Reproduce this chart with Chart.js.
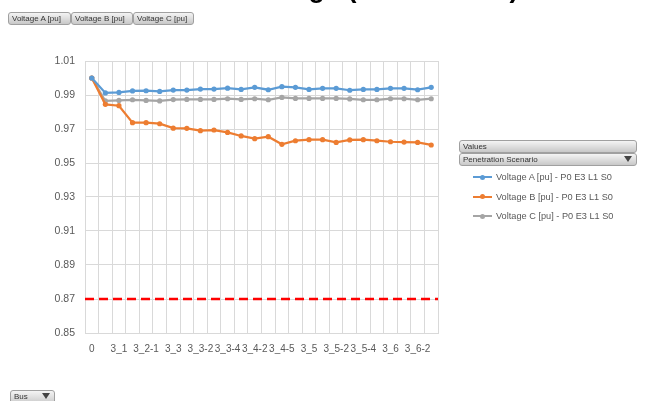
<!DOCTYPE html>
<html>
<head>
<meta charset="utf-8">
<script src="https://cdn.jsdelivr.net/npm/chart.js@4.4.1/dist/chart.umd.min.js"></script>
<style>
  body { margin: 0; background: #fff; font-family: "Liberation Sans", Arial, sans-serif; }
  #wrap { position: relative; width: 650px; height: 401px; overflow: hidden; }
  #grafico { position: absolute; left: 0; top: 0; }
  .titulo { position: absolute; top: -27px; left: 186px; font: bold 27px "Liberation Sans", Arial, sans-serif; color: #000; white-space: nowrap; }
  .boton { position: absolute; height: 11px; line-height: 11px; font-size: 8px; color: #333;
    background: linear-gradient(#f4f4f4, #c8c8c8); border: 1px solid #a0a0a0; border-radius: 3px; padding: 0 3px; box-sizing: content-box; white-space: nowrap; }
  .filtro { position: absolute; right: 4px; top: 2px; width: 0; height: 0; border-left: 4px solid transparent; border-right: 4px solid transparent; border-top: 6px solid #444; }
  .leyenda { position: absolute; left: 473px; top: 170px; font-size: 9.2px; color: #595959; }
  .item { position: relative; height: 19.5px; line-height: 14px; white-space: nowrap; }
  .item .linea { position: absolute; left: 0; top: 6px; width: 19px; height: 2px; }
  .item .punto { position: absolute; left: 7px; top: 4.5px; width: 5px; height: 5px; border-radius: 50%; }
  .item span { position: absolute; left: 23px; top: 0; }
</style>
</head>
<body>
<div id="wrap">
  <canvas id="grafico" width="650" height="401"></canvas>
  <div class="titulo">Bus Voltage (P0 E3 L1 S0)</div>
  <div class="boton" style="left:8px; top:12px; width:55px;">Voltage A [pu]</div>
  <div class="boton" style="left:71px; top:12px; width:54px;">Voltage B [pu]</div>
  <div class="boton" style="left:133px; top:12px; width:53px;">Voltage C [pu]</div>
  <div class="boton" style="left:459px; top:140px; width:170px;">Values</div>
  <div class="boton" style="left:459px; top:153px; width:170px;">Penetration Scenario<div class="filtro"></div></div>
  <div class="boton" style="left:10px; top:390px; width:37px; height:13px;">Bus<div class="filtro"></div></div>
  <div class="leyenda" id="leyenda"></div>
</div>
<script>
// Datos
const buses = ["0", "3", "3_1", "3_2", "3_2-1", "3_2-2", "3_3", "3_3-1", "3_3-2", "3_3-3",
  "3_3-4", "3_4", "3_4-2", "3_4-3", "3_4-5", "3_4-6", "3_5", "3_5-1", "3_5-2", "3_5-3",
  "3_5-4", "3_5-5", "3_6", "3_6-1", "3_6-2", "3_6-3"];

const voltajeA = [1.000, 0.9912, 0.9915, 0.9924, 0.9925, 0.9921, 0.9929, 0.9929, 0.9935, 0.9935,
  0.9940, 0.9933, 0.9945, 0.9931, 0.9949, 0.9945, 0.9933, 0.9939, 0.9939, 0.9928,
  0.9933, 0.9933, 0.9939, 0.9939, 0.9931, 0.9945];
const voltajeB = [1.000, 0.9845, 0.9837, 0.9737, 0.9737, 0.9731, 0.9705, 0.9704, 0.9690, 0.9694,
  0.9680, 0.9659, 0.9643, 0.9655, 0.9610, 0.9631, 0.9637, 0.9637, 0.9621, 0.9636,
  0.9637, 0.9631, 0.9625, 0.9623, 0.9621, 0.9606];
const voltajeC = [1.000, 0.9865, 0.9868, 0.9872, 0.9868, 0.9865, 0.9873, 0.9874, 0.9874, 0.9874,
  0.9878, 0.9874, 0.9878, 0.9872, 0.9886, 0.9880, 0.9880, 0.9880, 0.9880, 0.9877,
  0.9872, 0.9872, 0.9878, 0.9878, 0.9872, 0.9878];
const limiteInferior = 0.87;

const series = ["Voltage A [pu] - P0 E3 L1 S0", "Voltage B [pu] - P0 E3 L1 S0", "Voltage C [pu] - P0 E3 L1 S0"];
const colores = ["#5b9bd5", "#ed7d31", "#a5a5a5"];
const ejeY = { min: 0.85, max: 1.01, paso: 0.02 };

const valores = [voltajeA, voltajeB, voltajeC];
const datasets = valores.map((v, i) => ({
  label: series[i],
  data: v,
  borderColor: colores[i],
  backgroundColor: colores[i],
  borderWidth: 2.25,
  pointRadius: 2.6,
  pointHoverRadius: 3,
  pointBorderWidth: 0,
  tension: 0,
  xAxisID: "x",
}));
// Linea de limite (rojo discontinuo) sobre todo el ancho del area
datasets.push({
  label: "limite",
  data: [{ x: 0, y: limiteInferior }, { x: 1, y: limiteInferior }],
  borderColor: "#ff0000",
  borderWidth: 2.5,
  borderDash: [9, 5],
  pointRadius: 0,
  xAxisID: "x2",
});

const grid = "#d9d9d9";
const ctx = document.getElementById("grafico").getContext("2d");
new Chart(ctx, {
  type: "line",
  data: { labels: buses, datasets },
  options: {
    responsive: false,
    animation: false,
    layout: { padding: { left: 0, top: 61, right: 212, bottom: 0 } },
    plugins: { legend: { display: false }, tooltip: { enabled: false } },
    scales: {
      x: {
        type: "category",
        offset: true,
        grid: { color: grid, offset: true, drawTicks: false },
        border: { color: grid },
        ticks: {
          autoSkip: false, maxRotation: 0, minRotation: 0, padding: 10,
          color: "#595959", font: { size: 10, family: "Liberation Sans" },
          callback: function (val, i) { return i % 2 === 0 ? this.getLabelForValue(val) : ""; },
        },
        afterFit: (s) => { s.height = 68; },
      },
      x2: { type: "linear", display: false, min: 0, max: 1 },
      y: {
        min: ejeY.min, max: ejeY.max,
        grid: { color: grid, drawTicks: false },
        border: { display: false },
        ticks: {
          stepSize: ejeY.paso, padding: 10, color: "#595959",
          font: { size: 10.5, family: "Liberation Sans" },
          callback: (v) => v.toFixed(2),
        },
        afterFit: (s) => { s.width = 85; },
      },
    },
  },
});

// Leyenda en HTML a partir de las series
const ley = document.getElementById("leyenda");
series.forEach((s, i) => {
  const d = document.createElement("div");
  d.className = "item";
  d.innerHTML = `<div class="linea" style="background:${colores[i]}"></div><div class="punto" style="background:${colores[i]}"></div><span>${s}</span>`;
  ley.appendChild(d);
});
</script>
</body>
</html>
